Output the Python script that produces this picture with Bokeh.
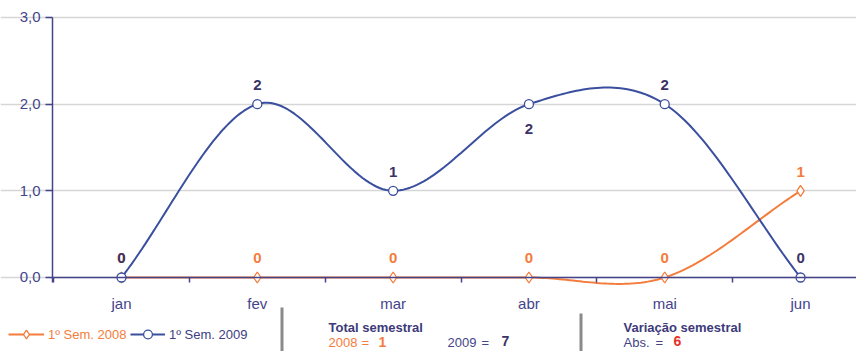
import numpy as np
from bokeh.plotting import figure
from bokeh.models import (Range1d, FixedTicker, Label, Legend, LegendItem,
                          BoxAnnotation, ColumnDataSource)
from bokeh.embed import file_html
from bokeh.resources import INLINE
from bokeh.core.properties import value

# ---- data ----
months = ["jan", "fev", "mar", "abr", "mai", "jun"]
sem_2008 = [0, 0, 0, 0, 0, 1]
sem_2009 = [0, 2, 1, 2, 2, 0]
label_2009_pos = ["above", "above", "above", "below", "above", "above"]
y_ticks = [0, 1, 2, 3]
y_tick_labels = ["0,0", "1,0", "2,0", "3,0"]
total_2008 = 1
total_2009 = 7
variacao_abs = 6

ORANGE = "#f47c3c"
BLUE = "#3a4f9e"
DARK = "#3b3366"
AXIS = "#44448a"
FONT = "Liberation Sans"

W, H = 856, 351


def smooth(ys, n=40):
    ys = np.asarray(ys, float)
    xs = np.arange(len(ys), dtype=float)
    m = np.zeros_like(ys)
    m[1:-1] = (ys[2:] - ys[:-2]) / 2
    m[0] = ys[1] - ys[0]
    m[-1] = ys[-1] - ys[-2]
    ox, oy = [], []
    for i in range(len(ys) - 1):
        t = np.linspace(0, 1, n, endpoint=(i == len(ys) - 2))
        h00 = 2 * t**3 - 3 * t**2 + 1
        h10 = t**3 - 2 * t**2 + t
        h01 = -2 * t**3 + 3 * t**2
        h11 = t**3 - t**2
        oy.extend(h00 * ys[i] + h10 * m[i] + h01 * ys[i + 1] + h11 * m[i + 1])
        ox.extend(xs[i] + t)
    return ox, oy


x_idx = list(range(len(months)))
n = len(months)
x_left = -0.508          # plot-area left edge (where the y axis sits)
x_start, x_end = -0.891, 5.412
y_start, y_end = -0.854, 3.196

p = figure(width=W, height=H,
           x_range=Range1d(x_start, x_end), y_range=Range1d(y_start, y_end),
           output_backend="svg", toolbar_location=None,
           min_border_left=0, min_border_right=0,
           min_border_top=0, min_border_bottom=0)
p.outline_line_color = None
p.background_fill_color = "white"
p.border_fill_color = "white"
p.xgrid.grid_line_color = None
p.ygrid.grid_line_color = "#d6d6d6"
p.ygrid.grid_line_width = 1.5
p.ygrid.bounds = (x_left, x_end)

# y axis
p.yaxis.fixed_location = x_left
p.yaxis.bounds = (-0.06, y_ticks[-1])
p.yaxis.ticker = FixedTicker(ticks=y_ticks)
p.yaxis.major_label_overrides = {t: l for t, l in zip(y_ticks, y_tick_labels)}
p.yaxis.axis_line_color = AXIS
p.yaxis.axis_line_width = 1.5
p.yaxis.major_tick_line_color = AXIS
p.yaxis.major_tick_line_width = 1.5
p.yaxis.major_tick_in = 0
p.yaxis.major_tick_out = 7
p.yaxis.minor_tick_line_color = None
p.yaxis.major_label_standoff = 5
p.yaxis.major_label_text_font = FONT
p.yaxis.major_label_text_font_size = "15px"
p.yaxis.major_label_text_color = AXIS

# x axis
p.xaxis.fixed_location = 0
p.xaxis.bounds = (x_left, x_end)
p.xaxis.ticker = FixedTicker(ticks=x_idx, minor_ticks=[i - 0.5 for i in range(n + 1)])
p.xaxis.major_label_overrides = {i: m for i, m in zip(x_idx, months)}
p.xaxis.axis_line_color = AXIS
p.xaxis.axis_line_width = 1.5
p.xaxis.major_tick_line_color = None
p.xaxis.major_tick_in = 0
p.xaxis.major_tick_out = 0
p.xaxis.minor_tick_line_color = AXIS
p.xaxis.minor_tick_line_width = 1.5
p.xaxis.minor_tick_in = 0
p.xaxis.minor_tick_out = 5
p.xaxis.major_label_standoff = 13
p.xaxis.major_label_text_font = FONT
p.xaxis.major_label_text_font_size = "15px"
p.xaxis.major_label_text_color = AXIS

# lines
ox, oy = smooth(sem_2008)
bx, by = smooth(sem_2009)
l08 = p.line(ox, oy, line_color=ORANGE, line_width=2)
l09 = p.line(bx, by, line_color=BLUE, line_width=2)
m08 = p.scatter(x_idx, sem_2008, marker="diamond", size=11, fill_color="white",
                line_color=ORANGE, line_width=1.3)
m09 = p.scatter(x_idx, sem_2009, marker="circle", size=9, fill_color="white",
                line_color=BLUE, line_width=1.3)

# data labels
src08 = ColumnDataSource(dict(x=x_idx, y=sem_2008, t=[str(v) for v in sem_2008]))
p.text(x="x", y="y", text="t", source=src08, y_offset=-19,
       text_align="center", text_baseline="middle", text_color=ORANGE,
       text_font=value(FONT), text_font_size="15px", text_font_style="bold")
off09 = [-19 if pos == "above" else 25 for pos in label_2009_pos]
src09 = ColumnDataSource(dict(x=x_idx, y=sem_2009, t=[str(v) for v in sem_2009], off=off09))
p.text(x="x", y="y", text="t", source=src09, y_offset="off",
       text_align="center", text_baseline="middle", text_color=DARK,
       text_font=value(FONT), text_font_size="15px", text_font_style="bold")


# legends
def mk_legend(label, rends, color, x, w):
    lg = Legend(items=[LegendItem(label=label, renderers=rends)],
                location=(x, H - 323 - 22), orientation="horizontal",
                glyph_width=w, glyph_height=22, label_standoff=4,
                padding=0, margin=0, spacing=0,
                background_fill_alpha=0, border_line_color=None,
                label_text_font=FONT, label_text_font_size="13px",
                label_text_color=color, label_height=22)
    p.add_layout(lg, "center")


mk_legend("1º Sem. 2008", [l08, m08], ORANGE, 8, 36)
mk_legend("1º Sem. 2009", [l09, m09], "#3d3d80", 130, 35)


# bottom texts (screen coords from the bottom-left corner)
def lab(text, X, Y, color, bold=False, size="13px"):
    p.add_layout(Label(x=X, y=H - Y, x_units="screen", y_units="screen", text=text,
                       text_font=FONT, text_font_size=size, text_color=color,
                       text_font_style="bold" if bold else "normal",
                       text_baseline="middle", text_align="left"))


ROW2 = 342
lab("Total semestral", 328, 327, "#3d3a7a", bold=True)
lab("2008", 328, ROW2, ORANGE)
lab("=", 361, ROW2, ORANGE)
lab(str(total_2008), 378, ROW2 - 1, ORANGE, bold=True, size="14px")
lab("2009", 447, ROW2, "#44448a")
lab("=", 481, ROW2, "#44448a")
lab(str(total_2009), 501, ROW2 - 2, DARK, bold=True, size="14px")
lab("Variação semestral", 623, 327, "#3d3a7a", bold=True)
lab("Abs.", 623, ROW2, "#44448a")
lab("=", 655, ROW2, "#44448a")
lab(str(variacao_abs), 673, ROW2 - 2, "#e8302a", bold=True, size="14px")

for X, Ytop in [(280, 307), (579, 313)]:
    p.add_layout(BoxAnnotation(left=X, right=X + 3, top=H - Ytop, bottom=0,
                               left_units="screen", right_units="screen",
                               top_units="screen", bottom_units="screen",
                               fill_color="#8a8a8a", fill_alpha=1, line_color=None))

open("out.html", "w").write(file_html(p, INLINE))
